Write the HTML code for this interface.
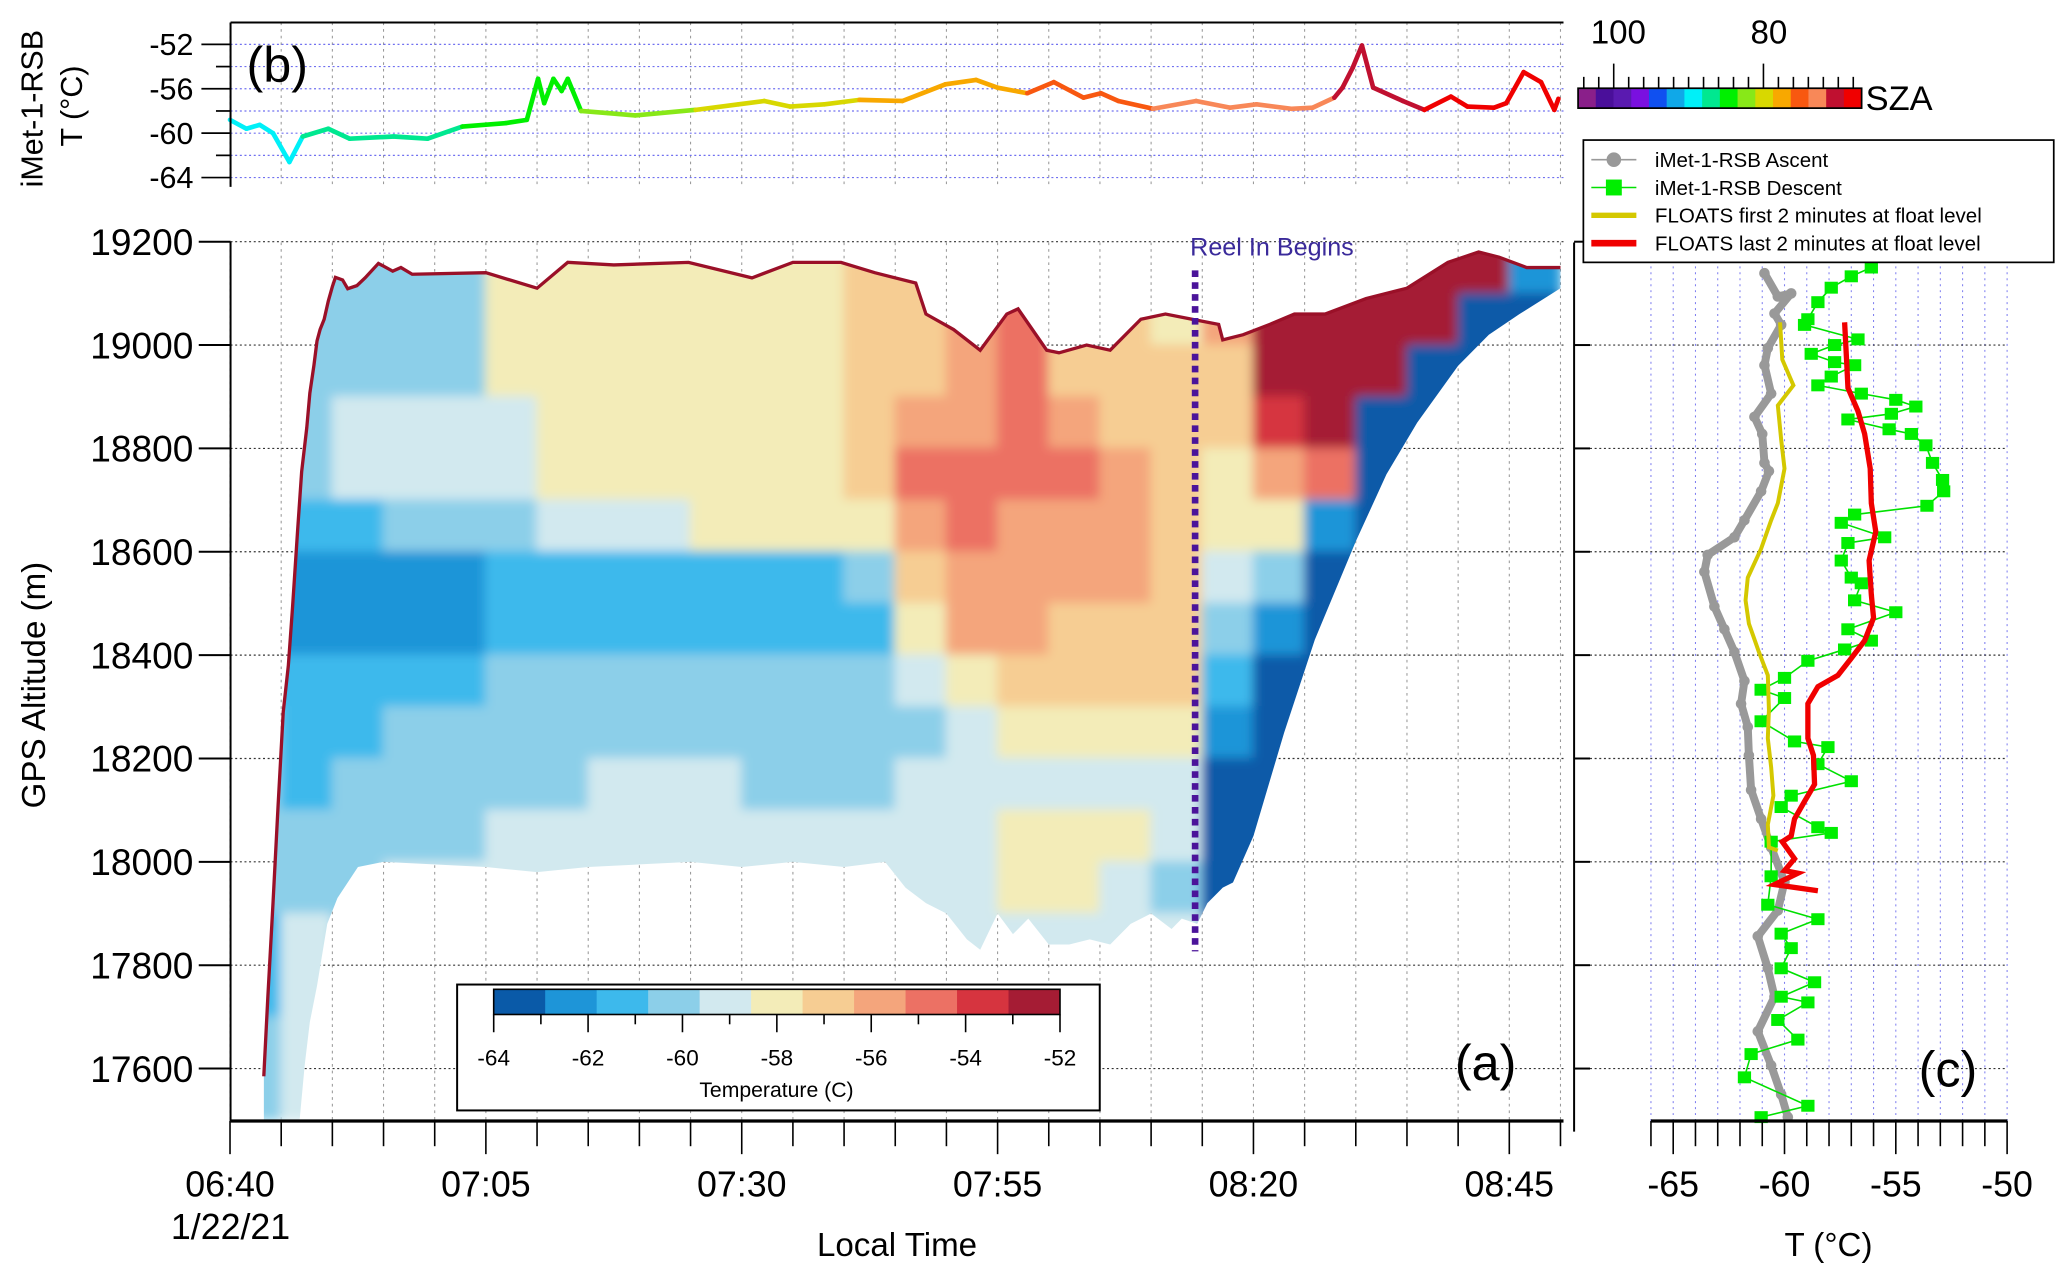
<!DOCTYPE html>
<html><head><meta charset="utf-8"><style>
html,body{margin:0;padding:0;background:#fff;}
svg{display:block;font-family:"Liberation Sans",sans-serif;}
</style></head><body>
<svg id="chart" xmlns="http://www.w3.org/2000/svg" width="2067" height="1275" viewBox="0 0 1560 962.2" preserveAspectRatio="none">
<defs>
<filter id="soft" x="-5%" y="-5%" width="110%" height="110%"><feGaussianBlur stdDeviation="4"/></filter>
<clipPath id="envClip"><path id="envPath" d=""/></clipPath>
</defs>
<rect width="1560" height="962.2" fill="#fff"/>
<g id="grid"></g>
<g clip-path="url(#envClip)"><g id="heat" filter="url(#soft)"></g></g>
<g id="marks"></g>
<g id="axes"></g>
</svg>
<script>
// ---------- data ----------
const colTimes = [0,5,10,15,20,25,30,35,40,45,50,55,60,65,70,75,80,85,90,95,100,105,110,115,120,125]; // minutes after 06:40, column start
const rowAlts = [19150,19050,18950,18850,18750,18650,18550,18450,18350,18250,18150,18050,17950,17850,17750,17650,17550];
const tempGrid = [
[-60,-60,-60,-60,-60,-58.5,-58,-58,-58,-58,-58,-58,-57,-56.5,-56,-55,-57,-57,-57.5,-56,-52.5,-52,-52,-52,-53,-62],
[-60,-60,-60,-60,-60,-58.5,-58,-58,-58,-58,-58,-58,-57,-56.5,-56,-55,-57,-57,-57.5,-56,-52.5,-52,-52,-53,-63,-64],
[-60,-60,-60,-60,-60,-58.5,-58,-58,-58,-58,-58,-58,-57,-56.5,-55.5,-55,-57,-57,-57,-57,-53,-52,-52.5,-63,-64,-64],
[-60,-60,-59.5,-59.5,-59,-59,-58,-58,-58,-58,-58,-57.5,-57,-56,-55.5,-55,-56,-56.5,-57,-57,-54,-53,-63,-64,-64,-64],
[-60,-60,-59.5,-59,-59,-59,-58,-58,-58,-58,-58,-57.5,-57,-55,-54.5,-55,-55,-56,-56.5,-58,-56,-55,-64,-64,-64,-64],
[-60,-61,-61,-60.5,-60,-60,-59,-59,-59,-58.5,-58.5,-58,-57.5,-56,-55,-55.5,-56,-56,-56.5,-58.5,-58,-62,-64,-64,-64,-64],
[-61,-62,-62,-62,-62,-61.5,-61,-61,-61,-61,-61,-61,-60,-56.5,-56,-56,-56,-56,-56.5,-59,-60,-64,-64,-64,-64,-64],
[-61,-62.5,-62.5,-62.5,-62,-61,-61.5,-61.5,-61.5,-61.5,-61,-61,-61,-57.5,-56,-56,-56.5,-56.5,-56.5,-60,-62,-64,-64,-64,-64,-64],
[-61,-61.5,-61.5,-61,-61,-60.5,-60,-60,-60,-60.5,-60.5,-60.5,-60.5,-59.5,-58,-57,-57,-57,-57,-61,-63.5,-64,-64,-64,-64,-64],
[-60,-61,-61,-60.5,-60.5,-60,-60,-60,-60,-60,-60,-60,-60,-60,-59,-58.5,-58,-58,-57.5,-62.5,-64,-64,-64,-64,-64,-64],
[-60,-61,-60.5,-60.5,-60,-60,-60,-59.5,-59.5,-59.5,-60,-60,-60,-59.5,-59.5,-59,-59,-59,-59,-63.5,-64,-64,-64,-64,-64,-64],
[-60,-60.5,-60.5,-60,-60,-59.5,-59.5,-59.5,-59.5,-59.5,-59.5,-59.5,-59.5,-59.5,-59,-58.5,-58.5,-58.5,-59.5,-64,-64,-64,-64,-64,-64,-64],
[-60.5,-60,-60,-59.5,-59.5,-59.5,-59.5,-59.5,-59.5,-59.5,-59.5,-59.5,-59.5,-59,-59,-58.5,-58.5,-59,-60,-64,-64,-64,-64,-64,-64,-64],
[-61,-59.5,-60,-59.5,-59.5,-59.5,-59.5,-59.5,-59.5,-59.5,-59.5,-59.5,-59.5,-59,-59,-59,-59,-59,-59.5,-64,-64,-64,-64,-64,-64,-64],
[-61,-59.5,-61,-59.5,-59.5,-59.5,-59.5,-59.5,-59.5,-59.5,-59.5,-59.5,-59.5,-59,-59,-59,-59,-59,-59.5,-64,-64,-64,-64,-64,-64,-64],
[-60.5,-59,-61,-59.5,-59.5,-59.5,-59.5,-59.5,-59.5,-59.5,-59.5,-59.5,-59.5,-59,-59,-59,-59,-59,-59.5,-64,-64,-64,-64,-64,-64,-64],
[-60.5,-59,-60,-59.5,-59.5,-59.5,-59.5,-59.5,-59.5,-59.5,-59.5,-59.5,-59.5,-59,-59,-59,-59,-59,-59.5,-64,-64,-64,-64,-64,-64,-64]
];
const topTimes = [3.3,3.7,4.2,4.7,5.2,5.7,6.1,6.6,7.0,7.5,7.8,8.2,8.5,8.8,9.2,9.6,10,10.3,11,11.5,12.4,13.2,14.5,15.9,16.7,17.8,25,30,33,37.5,44.8,51,55,59.7,63,67,68,70.7,73.3,75.9,77,79.8,81,83.7,86,89,91.4,94,96.6,97,99,101.6,104,107,111,115,119,122,124,126.7,130];
const topAlts = [17585,17740,17920,18110,18290,18380,18490,18640,18755,18840,18907,18961,19008,19030,19050,19085,19113,19131,19126,19109,19115,19130,19158,19143,19150,19137,19140,19110,19160,19155,19160,19130,19160,19160,19140,19120,19060,19030,18990,19060,19070,18990,18985,19000,18990,19050,19060,19050,19040,19010,19020,19040,19060,19060,19090,19110,19160,19180,19170,19150,19150];
const botTimes = [3.3,6.8,7.3,7.8,8.5,9,9.5,10.5,11.5,12.5,15,25,30,35,40,45,50,55,60,64,66,68,70,72,73.3,75,76.5,78,80,82,84,86,88,90,92,93,94.5,95.5,97,98,100,103,106,110,113,116,120,123,126,130];
const botAlts = [17500,17500,17607,17690,17760,17820,17880,17930,17960,17990,18000,17990,17980,17990,17995,18000,17990,18000,17990,18000,17950,17920,17900,17850,17830,17900,17860,17890,17840,17840,17850,17840,17880,17900,17870,17890,17880,17920,17950,17960,18050,18250,18430,18620,18750,18850,18960,19020,19060,19110];

const bTimes = [0,1.6,2.9,4.2,5.8,7.1,9.6,11.7,16,19.3,22.7,26.9,29,30.1,30.7,31.6,32.4,33,34.3,37,39.6,45.5,49.7,52.2,54.7,58.1,61.5,65.7,69.9,72.9,75,77.9,80.5,83.4,85.1,86.8,90.2,94.4,97.7,100.3,103.7,105.8,107.9,108.7,109.7,110.6,111.7,114.6,116.7,119.3,120.9,123.5,124.7,126.4,128.1,129.4,129.8];
const bTemps = [-58.8,-59.6,-59.25,-60,-62.6,-60.3,-59.6,-60.5,-60.3,-60.5,-59.4,-59.1,-58.8,-55.1,-57.3,-55.1,-56.2,-55.1,-58,-58.2,-58.4,-57.9,-57.4,-57.1,-57.6,-57.4,-57,-57.1,-55.6,-55.2,-55.9,-56.4,-55.4,-56.8,-56.4,-57.1,-57.8,-57.1,-57.7,-57.4,-57.8,-57.7,-56.8,-55.9,-54.1,-52.1,-55.9,-57.1,-57.9,-56.7,-57.6,-57.7,-57.3,-54.5,-55.4,-57.9,-56.9];
const bSzaIdx = [6,6,6,6,6,6.5,7,7,7,7,8,8,8,8,8,8,8,8,9,9,9,9.5,10,10,10,10,10.5,11,11,11,11,12,12,12,12,12,13,13,13,13,13,13,14,14,14,14,14,14,15,15,15,15,15,15,15,15,15];

const ascT = [-60.9,-60.3,-59.7,-60.45,-60.15,-60.75,-60.9,-60.6,-61.35,-61,-60.9,-60.7,-61.05,-61.8,-62.25,-63.45,-63.6,-63.15,-62.7,-62.25,-61.8,-61.95,-61.65,-61.6,-61.5,-61.05,-60.6,-60,-60.3,-61.2,-60.75,-60.45,-61.2,-60.6,-60.15,-59.85];
const ascAlt = [19139,19094,19100,19061,19039,18994,18961,18906,18861,18828,18772,18756,18717,18661,18628,18594,18561,18494,18450,18406,18350,18306,18261,18206,18139,18083,18028,17961,17906,17856,17794,17739,17672,17606,17550,17506];
const desT = [-56.1,-57,-57.9,-58.5,-58.95,-59.1,-56.7,-57.75,-58.8,-57.75,-56.85,-57.9,-58.5,-56.55,-55,-54.1,-55.2,-57.15,-55.3,-54.3,-53.65,-53.35,-52.9,-52.85,-53.6,-56.85,-57.45,-55.5,-57.15,-57.45,-57,-56.55,-56.85,-55,-57.15,-56.1,-57.3,-58.95,-60,-61.05,-60,-61.05,-59.55,-58.05,-58.5,-57,-59.7,-60.15,-58.5,-57.9,-60.6,-60.6,-60.75,-58.5,-60.15,-59.7,-60.15,-58.65,-60.15,-58.95,-60.3,-59.4,-61.5,-61.8,-58.95,-61.05];
const desAlt = [19150,19133,19111,19083,19050,19039,19011,19000,18983,18967,18961,18939,18922,18906,18894,18881,18867,18856,18837,18828,18806,18772,18739,18717,18689,18672,18656,18628,18617,18583,18550,18539,18506,18483,18450,18428,18411,18389,18356,18333,18317,18272,18233,18222,18189,18156,18128,18106,18067,18056,18039,17972,17917,17889,17861,17833,17794,17767,17739,17728,17694,17656,17628,17583,17528,17506];
const firstT = [-60.2,-60.1,-59.6,-60.3,-60.15,-60,-60.3,-60.6,-61.05,-61.65,-61.75,-61.6,-61.15,-60.75,-60.7,-60.75,-60.6,-60.5,-60.75,-60.7,-60.3];
const firstAlt = [19044,18972,18922,18883,18817,18761,18694,18661,18606,18550,18506,18461,18406,18361,18294,18239,18183,18128,18072,18028,18022];
const lastT = [-57.3,-57.2,-57.15,-56.7,-56.4,-56.15,-56.1,-55.9,-56.2,-56.1,-56,-56.4,-57,-57.6,-58.5,-58.95,-58.95,-58.7,-58.65,-59.1,-59.55,-59.7,-60.1,-59.55,-60,-59.4,-60.45,-58.5];
const lastAlt = [19044,18961,18917,18872,18828,18761,18694,18639,18583,18517,18472,18428,18394,18361,18339,18306,18239,18206,18150,18117,18083,18050,18039,18006,17983,17978,17956,17944];

const tempBinColors = ['#0a5aa8','#1e95d8','#3db9ec','#8ccfe9','#d2e9ef','#f3ecb8','#f6cd93','#f4a57c','#ec7164','#d6343f','#a51c34'];
const szaColors = ['#8a1f8a','#4a0f9a','#5a1ab0','#7a10e0','#1050f0','#10a8e8','#00f0f8','#00e890','#00f000','#88e818','#d8d800','#f8a800','#f85810','#f88858','#c01030','#f00000'];
const timeTickLabels = ['06:40','07:05','07:30','07:55','08:20','08:45'];
const altTicks = [17600,17800,18000,18200,18400,18600,18800,19000,19200];
const bTicks = [-52,-56,-60,-64];
const cTicks = [-65,-60,-55,-50];
const cbTicks = [-64,-62,-60,-58,-56,-54,-52];
const reelInTime = 94.3;

// ---------- scales ----------
const xT = t => 173.6 + t*7.724;
const yA = a => 182.4 + (19200-a)*0.39;
const yB = T => 33.5 + (-52 - T)*8.375;
const xC = T => 1246 + (T+66)*16.8;
const NS='http://www.w3.org/2000/svg';
function mk(tag, attrs, parent){const e=document.createElementNS(NS,tag);for(const k in attrs)e.setAttribute(k,attrs[k]);parent.appendChild(e);return e;}
function tempColor(v){let i=Math.floor((v+64)/(12/11));i=Math.max(0,Math.min(10,i));return tempBinColors[i];}
function txt(s, attrs, parent){const e=mk('text',attrs,parent);e.textContent=s;return e;}

const grid=document.getElementById('grid'), heat=document.getElementById('heat'), marks=document.getElementById('marks'), axes=document.getElementById('axes');

// gridlines
for(let m=0;m<=130;m+=5){
  const g1=mk('line',{x1:xT(m),x2:xT(m),y1:183,y2:846,stroke:'#999','stroke-width':0.8,'stroke-dasharray':'2,3'},grid);
  
  
  const g2=mk('line',{x1:xT(m),x2:xT(m),y1:17,y2:141,stroke:'#999','stroke-width':0.8,'stroke-dasharray':'2,3'},grid);
  
  
}
for(let T=-52;T>=-64;T-=2){
  const g=mk('line',{x1:174,x2:1180,y1:yB(T),y2:yB(T),stroke:'#7070f0','stroke-width':0.9,'stroke-dasharray':'1.5,2'},grid);
  
  
}
for(let T=-66;T<=-50;T++){
  const g=mk('line',{x1:xC(T),x2:xC(T),y1:183,y2:846,stroke:'#8080f0','stroke-width':0.8,'stroke-dasharray':'1.5,3'},grid);
  
  
}
altTicks.forEach(a=>{
  const g=mk('line',{x1:174,x2:1180,y1:yA(a),y2:yA(a),stroke:'#333','stroke-width':0.9,'stroke-dasharray':'1.5,2'},grid);
  
  
  const g2=mk('line',{x1:1200,x2:1515,y1:yA(a),y2:yA(a),stroke:'#333','stroke-width':0.9,'stroke-dasharray':'1.5,2'},grid);
  
  
});

// heatmap cells
tempGrid.forEach((row,ri)=>{
  row.forEach((v,ci)=>{
    const r=mk('rect',{x:xT(colTimes[ci])-0.5,y:yA(rowAlts[ri]+50)-0.5,width:xT(colTimes[ci]+5)-xT(colTimes[ci])+1,height:yA(rowAlts[ri]-50)-yA(rowAlts[ri]+50)+1,fill:tempColor(v)},heat);
    
    
  });
});
// envelope clip
let d='M'+xT(topTimes[0])+','+yA(topAlts[0]);
for(let i=1;i<topTimes.length;i++) d+=' L'+xT(topTimes[i])+','+yA(topAlts[i]);
for(let i=botTimes.length-1;i>=0;i--) d+=' L'+xT(botTimes[i])+','+yA(botAlts[i]);
d+=' Z';
document.getElementById('envPath').setAttribute('d',d);
let td='M'+xT(topTimes[0])+','+yA(topAlts[0]);
for(let i=1;i<topTimes.length;i++) td+=' L'+xT(topTimes[i])+','+yA(topAlts[i]);
const topEdge=mk('path',{d:td,fill:'none',stroke:'#9a1028','stroke-width':2.5},marks);



// reel in line
const reel=mk('line',{x1:xT(reelInTime),x2:xT(reelInTime),y1:204,y2:718,stroke:'#4b149a','stroke-width':5,'stroke-dasharray':'5,4'},marks);


const rl=txt('Reel In Begins',{x:xT(reelInTime)+58,y:193,'font-size':19,fill:'#3a2a9a','text-anchor':'middle'},marks);



// panel b line
for(let i=0;i<bTimes.length-1;i++){
  const s=mk('line',{x1:xT(bTimes[i]),y1:yB(bTemps[i]),x2:xT(bTimes[i+1]),y2:yB(bTemps[i+1]),stroke:szaColors[Math.round(bSzaIdx[i])],'stroke-width':3.5,'stroke-linecap':'round'},marks);
  
  
}

// panel c lines
function poly(ts,as,attrs,name){const p=mk('polyline',Object.assign({points:ts.map((t,i)=>xC(t)+','+yA(as[i])).join(' '),fill:'none'},attrs),marks);return p;}
poly(ascT,ascAlt,{stroke:'#999','stroke-width':6,'stroke-linejoin':'round'},'ascent-line');
ascT.forEach((t,i)=>{const c=mk('circle',{cx:xC(t),cy:yA(ascAlt[i]),r:4,fill:'#999'},marks);});
poly(desT,desAlt,{stroke:'#00e000','stroke-width':1.2},'descent-line');
desT.forEach((t,i)=>{const s=mk('rect',{x:xC(t)-5,y:yA(desAlt[i])-4.5,width:10,height:9,fill:'#00ee00'},marks);});
poly(firstT,firstAlt,{stroke:'#d4c800','stroke-width':3},'floats-first-line');
poly(lastT,lastAlt,{stroke:'#f00000','stroke-width':4},'floats-last-line');

// axes
function ln(x1,y1,x2,y2,w,name){const l=mk('line',{x1,y1,x2,y2,stroke:'#000','stroke-width':w},axes);return l;}
ln(174,17,1180,17,1.5,'panel-b-top-frame');
ln(174,17,174,141,1.5,'panel-b-y-axis');
ln(174,182.4,174,846,1.5,'main-y-axis');
ln(174,846,1180,846,2.5,'main-x-axis');
ln(1188,183,1188,854,1.5,'panel-c-y-axis');
ln(1246,846,1515,846,2.5,'panel-c-x-axis');
for(let m=0;m<=130;m+=5){ln(xT(m),846,xT(m),m%25===0?871:865,1.2,'time-tick');}
timeTickLabels.forEach((s,i)=>{const t=txt(s,{x:xT(i*25),y:903,'font-size':27,'text-anchor':'middle'},axes);});
altTicks.forEach(a=>{ln(150,yA(a),174,yA(a),1.5,'altitude-tick');ln(1188,yA(a),1200,yA(a),1.5,'panel-c-altitude-tick');
  const t=txt(String(a),{x:146,y:yA(a)+10,'font-size':28,'text-anchor':'end'},axes);});
for(let T=-52;T>=-64;T-=2){ln(bTicks.includes(T)?152:163,yB(T),174,yB(T),1.3,'panel-b-tick');}
bTicks.forEach(T=>{const t=txt(String(T),{x:146,y:yB(T)+8,'font-size':23,'text-anchor':'end'},axes);});
for(let T=-66;T<=-50;T++){ln(xC(T),846,xC(T),T%5===0?871:865,1.2,'panel-c-tick');}
cTicks.forEach(T=>{const t=txt(String(T),{x:xC(T),y:903,'font-size':27,'text-anchor':'middle'},axes);});

// colorbar legend
const cbx=372.6, cbw=427.4;
const box=mk('rect',{x:345,y:743,width:485,height:95,fill:'#fff',stroke:'#000','stroke-width':1.5},axes);


tempBinColors.forEach((c,i)=>{const r=mk('rect',{x:cbx+i*cbw/11,y:746.6,width:cbw/11+0.3,height:19,fill:c},axes);});
const cbf=mk('rect',{x:cbx,y:746.6,width:cbw,height:19,fill:'none',stroke:'#000','stroke-width':1.2},axes);


for(let v=-64;v<=-52;v++){const x=cbx+(v+64)/12*cbw;ln(x,765.6,x,v%2===0?779:773,1.2,'colorbar-tick');}
cbTicks.forEach(v=>{const t=txt(String(v),{x:cbx+(v+64)/12*cbw,y:804,'font-size':17,'text-anchor':'middle'},axes);});
</script>
<script>
(function(){
const axes=document.getElementById('axes');const NS='http://www.w3.org/2000/svg';
function t(s,a,name){const e=document.createElementNS(NS,'text');for(const k in a)e.setAttribute(k,a[k]);e.textContent=s;axes.appendChild(e);

return e;}
t('Temperature (C)',{x:586,y:828,'font-size':16,'text-anchor':'middle'},'colorbar-title');
t('1/22/21',{x:174,y:935,'font-size':27,'text-anchor':'middle'},'date-label');
t('Local Time',{x:677,y:948,'font-size':25,'text-anchor':'middle'},'x-axis-title');
t('T (°C)',{x:1380,y:948,'font-size':25,'text-anchor':'middle'},'panel-c-x-axis-title');
t('GPS Altitude (m)',{x:0,y:0,'font-size':25,'text-anchor':'middle',transform:'translate(34,517) rotate(-90)'},'y-axis-title');
t('iMet-1-RSB',{x:0,y:0,'font-size':23,'text-anchor':'middle',transform:'translate(32,82) rotate(-90)'},'panel-b-y-title-1');
t('T (°C)',{x:0,y:0,'font-size':23,'text-anchor':'middle',transform:'translate(62,80) rotate(-90)'},'panel-b-y-title-2');
t('(b)',{x:186,y:62,'font-size':38},'panel-b-label');
t('(a)',{x:1098,y:815,'font-size':38},'panel-a-label');
t('(c)',{x:1448,y:820,'font-size':38},'panel-c-label');
const sc=['#8a1f8a','#4a0f9a','#5a1ab0','#7a10e0','#1050f0','#10a8e8','#00f0f8','#00e890','#00f000','#88e818','#d8d800','#f8a800','#f85810','#f88858','#c01030','#f00000'];
const x0=1191,w=214;
sc.forEach((c,i)=>{const r=document.createElementNS(NS,'rect');r.setAttribute('x',x0+i*w/16);r.setAttribute('y',66.6);r.setAttribute('width',w/16+0.3);r.setAttribute('height',15);r.setAttribute('fill',c);

axes.appendChild(r);});
const fr=document.createElementNS(NS,'rect');fr.setAttribute('x',x0);fr.setAttribute('y',66.6);fr.setAttribute('width',w);fr.setAttribute('height',15);fr.setAttribute('fill','none');fr.setAttribute('stroke','#000');fr.setAttribute('stroke-width',1.3);

axes.appendChild(fr);
for(let i=0;i<19;i++){const x=1195.3+i*11.3;const l=document.createElementNS(NS,'line');const major=(i===2||i===12);l.setAttribute('x1',x);l.setAttribute('x2',x);l.setAttribute('y1',major?48:58);l.setAttribute('y2',66.6);l.setAttribute('stroke','#000');l.setAttribute('stroke-width',1.2);

axes.appendChild(l);}
t('100',{x:1221.4,y:33,'font-size':25,'text-anchor':'middle'},'sza-tick-label');
t('80',{x:1335,y:33,'font-size':25,'text-anchor':'middle'},'sza-tick-label');
t('SZA',{x:1408,y:83,'font-size':26},'sza-title');
const lb=document.createElementNS(NS,'rect');lb.setAttribute('x',1195);lb.setAttribute('y',105.7);lb.setAttribute('width',355);lb.setAttribute('height',92.3);lb.setAttribute('fill','#fff');lb.setAttribute('stroke','#000');lb.setAttribute('stroke-width',1.3);

axes.appendChild(lb);
const ys=[120.5,141.5,162.5,183.5];
const names=['iMet-1-RSB Ascent','iMet-1-RSB Descent','FLOATS first 2 minutes at float level','FLOATS last 2 minutes at float level'];
const cols=['#999','#00e000','#d4c800','#f00000'];const ws=[1.2,1.2,4,5];
ys.forEach((y,i)=>{const l=document.createElementNS(NS,'line');l.setAttribute('x1',1201);l.setAttribute('x2',1235);l.setAttribute('y1',y);l.setAttribute('y2',y);l.setAttribute('stroke',cols[i]);l.setAttribute('stroke-width',ws[i]);

axes.appendChild(l);
t(names[i],{x:1249,y:y+5.5,'font-size':15.5},'legend-entry');});
const c=document.createElementNS(NS,'circle');c.setAttribute('cx',1218);c.setAttribute('cy',ys[0]);c.setAttribute('r',5.5);c.setAttribute('fill','#999');

axes.appendChild(c);
const s=document.createElementNS(NS,'rect');s.setAttribute('x',1212);s.setAttribute('y',ys[1]-6);s.setAttribute('width',12);s.setAttribute('height',12);s.setAttribute('fill','#00ee00');

axes.appendChild(s);
})();
</script>
</body></html>
